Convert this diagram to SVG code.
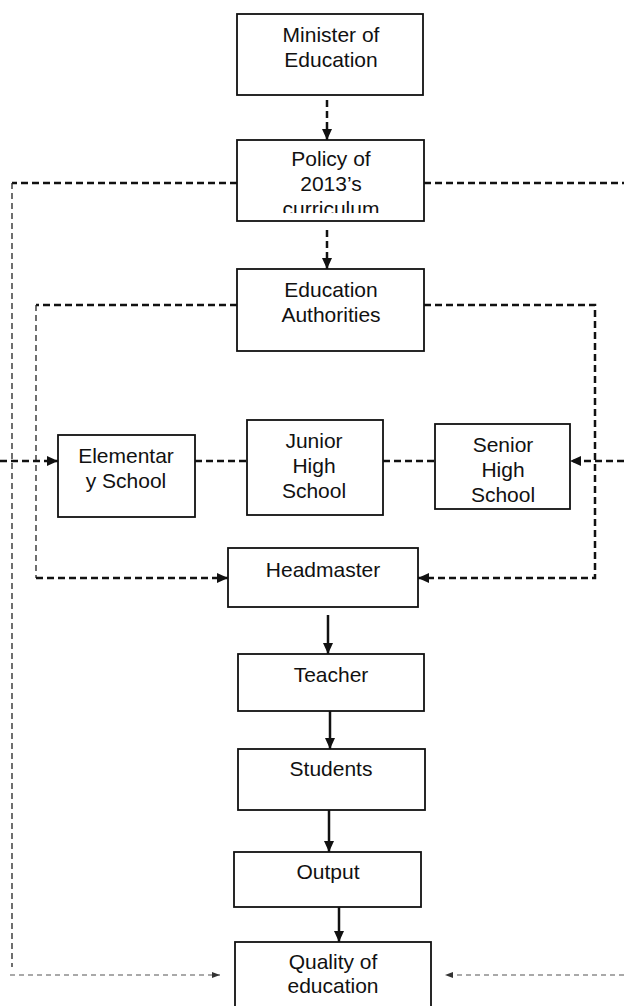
<svg xmlns="http://www.w3.org/2000/svg" width="624" height="1006" viewBox="0 0 624 1006">
<style>
.box{fill:#fff;stroke:#111;stroke-width:1.8}
.t{font-family:"Liberation Sans",Arial,sans-serif;font-size:21px;fill:#111;text-anchor:middle}
.thick{fill:none;stroke:#111;stroke-width:2.5;stroke-dasharray:7 4}
.thin{fill:none;stroke:#222;stroke-width:1.3;stroke-dasharray:6 4}
.gray{fill:none;stroke:#555;stroke-width:1.2;stroke-dasharray:5 4}
.solid{fill:none;stroke:#111;stroke-width:2.5}
</style>
<defs>
<marker id="ah" markerUnits="userSpaceOnUse" markerWidth="11" markerHeight="10" refX="11" refY="5" orient="auto">
<path d="M0,0 L11,5 L0,10 z" fill="#111"/>
</marker>
<marker id="as" markerUnits="userSpaceOnUse" markerWidth="8" markerHeight="6" refX="8" refY="3" orient="auto">
<path d="M0,0 L8,3 L0,6 z" fill="#333"/>
</marker>
<clipPath id="pc"><rect x="237" y="140" width="187" height="73"/></clipPath>
</defs>
<g id="connectors">
<line class="thick" x1="327" y1="100" x2="327" y2="140" marker-end="url(#ah)"/>
<line class="thick" x1="327" y1="230" x2="327" y2="269" marker-end="url(#ah)"/>
<line class="thick" x1="237" y1="183" x2="12" y2="183"/>
<line class="thin" x1="12" y1="183" x2="12" y2="967"/>
<line class="thick" x1="424" y1="183" x2="624" y2="183"/>
<line class="thick" x1="237" y1="305" x2="36" y2="305"/>
<line class="thin" x1="36" y1="305" x2="36" y2="578"/>
<line class="thick" x1="36" y1="578" x2="228" y2="578" marker-end="url(#ah)"/>
<polyline class="thick" points="424,305 595,305 595,578 418,578" marker-end="url(#ah)"/>
<line class="thick" x1="0" y1="461" x2="58" y2="461" marker-end="url(#ah)"/>
<line class="thick" x1="195" y1="461" x2="247" y2="461"/>
<line class="thick" x1="383" y1="461" x2="435" y2="461"/>
<line class="thick" x1="624" y1="461" x2="570" y2="461" marker-end="url(#ah)"/>
<line class="solid" x1="328" y1="615" x2="328" y2="654" marker-end="url(#ah)"/>
<line class="solid" x1="330" y1="711" x2="330" y2="749" marker-end="url(#ah)"/>
<line class="solid" x1="329" y1="810" x2="329" y2="852" marker-end="url(#ah)"/>
<line class="solid" x1="339" y1="907" x2="339" y2="942" marker-end="url(#ah)"/>
<line class="gray" x1="10" y1="975" x2="220" y2="975" marker-end="url(#as)"/>
<line class="gray" x1="624" y1="975" x2="445" y2="975" marker-end="url(#as)"/>
</g>
<g id="minister">
<rect class="box" x="237" y="14" width="186" height="81"/>
<text class="t" x="331" y="42">Minister of</text>
<text class="t" x="331" y="67">Education</text>
</g>
<g id="policy">
<rect class="box" x="237" y="140" width="187" height="81"/>
<text class="t" x="331" y="166">Policy of</text>
<text class="t" x="331" y="191">2013’s</text>
<text class="t" x="331" y="216" clip-path="url(#pc)">curriculum</text>
</g>
<g id="authorities">
<rect class="box" x="237" y="269" width="187" height="82"/>
<text class="t" x="331" y="297">Education</text>
<text class="t" x="331" y="322">Authorities</text>
</g>
<g id="elementary">
<rect class="box" x="58" y="435" width="137" height="82"/>
<text class="t" x="126" y="463">Elementar</text>
<text class="t" x="126" y="488">y School</text>
</g>
<g id="junior">
<rect class="box" x="247" y="420" width="136" height="95"/>
<text class="t" x="314" y="448">Junior</text>
<text class="t" x="314" y="473">High</text>
<text class="t" x="314" y="498">School</text>
</g>
<g id="senior">
<rect class="box" x="435" y="424" width="135" height="85"/>
<text class="t" x="503" y="452">Senior</text>
<text class="t" x="503" y="477">High</text>
<text class="t" x="503" y="502">School</text>
</g>
<g id="headmaster">
<rect class="box" x="228" y="548" width="190" height="59"/>
<text class="t" x="323" y="577">Headmaster</text>
</g>
<g id="teacher">
<rect class="box" x="238" y="654" width="186" height="57"/>
<text class="t" x="331" y="682">Teacher</text>
</g>
<g id="students">
<rect class="box" x="238" y="749" width="187" height="61"/>
<text class="t" x="331" y="776">Students</text>
</g>
<g id="output">
<rect class="box" x="234" y="852" width="187" height="55"/>
<text class="t" x="328" y="879">Output</text>
</g>
<g id="quality">
<rect class="box" x="235" y="942" width="196" height="70"/>
<text class="t" x="333" y="969">Quality of</text>
<text class="t" x="333" y="993">education</text>
</g>
</svg>
